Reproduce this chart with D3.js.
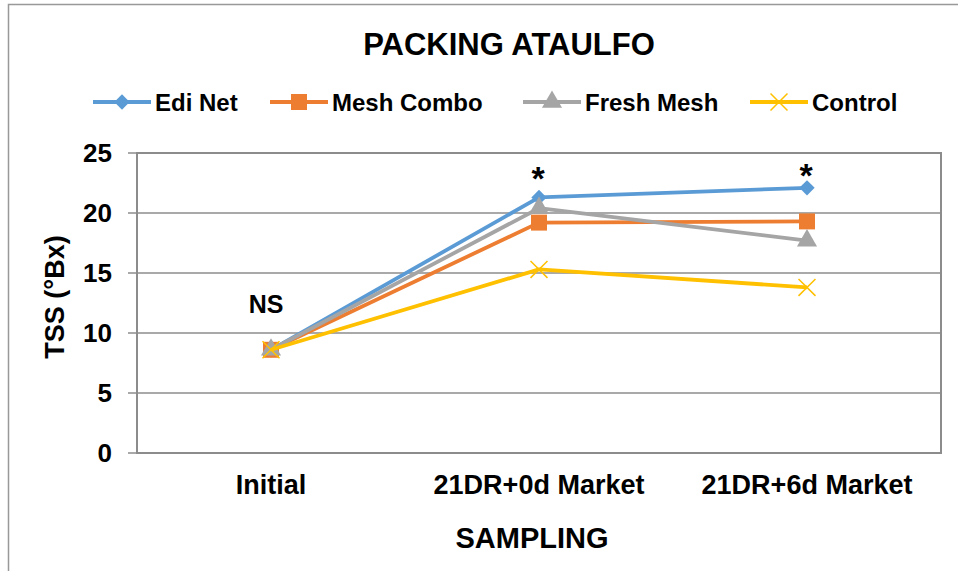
<!DOCTYPE html>
<html>
<head>
<meta charset="utf-8">
<script src="https://cdn.jsdelivr.net/npm/d3@7"></script>
<style>
  body { margin: 0; background: #fff; }
  text { font-family: "Liberation Sans", Arial, sans-serif; font-weight: bold; fill: #000; }
</style>
</head>
<body>
<div id="chart"></div>
<script>
"use strict"

// chart data
let categories = ["Initial", "21DR+0d Market", "21DR+6d Market"];
let seriesNames = ["Edi Net", "Mesh Combo", "Fresh Mesh", "Control"];
let ediNet = [8.6, 21.3, 22.1];
let meshCombo = [8.6, 19.2, 19.3];
let freshMesh = [8.6, 20.4, 17.7];
let control = [8.6, 15.3, 13.8];
let yTicks = [0, 5, 10, 15, 20, 25];
let notes = ["NS", "*", "*"];

let colors = ["#5B9BD5", "#ED7D31", "#A5A5A5", "#FFC000"];
let symbols = [d3.symbolDiamond2, d3.symbolSquare, d3.symbolTriangle, d3.symbolX];
let series = [ediNet, meshCombo, freshMesh, control];

let width = 958,
    height = 571;

let svg = d3.select("#chart")
    .append("svg")
    .attr("width", width)
    .attr("height", height);

// outer frame
svg.append("rect")
    .attr("x", 8.5).attr("y", 4.5)
    .attr("width", 1000).attr("height", 1000)
    .attr("fill", "none")
    .attr("stroke", "#999")
    .attr("stroke-width", 1.5);

let plotLeft = 137, plotRight = 941, plotTop = 153, plotBottom = 453;

let x = d3.scaleBand().domain(categories).range([plotLeft, plotRight]);
let y = d3.scaleLinear().domain([0, 25]).range([plotBottom, plotTop]);

function cx(i) {
    return x(categories[i]) + x.bandwidth() / 2;
}

// grid lines
svg.append("g")
    .selectAll("line")
    .data(yTicks)
    .enter()
    .append("line")
    .attr("x1", plotLeft - 9).attr("x2", plotRight)
    .attr("y1", function (d) { return y(d); })
    .attr("y2", function (d) { return y(d); })
    .attr("stroke", "#8c8c8c")
    .attr("stroke-width", 1.3);

// plot border
svg.append("rect")
    .attr("x", plotLeft).attr("y", plotTop)
    .attr("width", plotRight - plotLeft).attr("height", plotBottom - plotTop)
    .attr("fill", "none")
    .attr("stroke", "#8c8c8c")
    .attr("stroke-width", 2);

// y axis labels
let yAxis = d3.axisLeft(y).tickValues(yTicks).tickSize(0).tickPadding(25);
let yg = svg.append("g").attr("transform", "translate(" + plotLeft + ",0)").call(yAxis);
yg.select(".domain").remove();
yg.selectAll("text")
    .style("font-size", "26px")
    .style("font-family", "Liberation Sans, Arial, sans-serif")
    .style("font-weight", "bold")
    .attr("fill", "#000");

// x axis labels
let xAxis = d3.axisBottom(x).tickSize(0).tickPadding(22);
let xg = svg.append("g").attr("transform", "translate(0," + plotBottom + ")").call(xAxis);
xg.select(".domain").remove();
xg.selectAll("text")
    .style("font-size", "27px")
    .style("font-family", "Liberation Sans, Arial, sans-serif")
    .style("font-weight", "bold")
    .attr("fill", "#000");

// lines + markers, one series at a time
let line = d3.line()
    .x(function (d, i) { return cx(i); })
    .y(function (d) { return y(d); });

let markerSizes = [150, 256, 175, 190];

function drawMarker(g, k, px, py) {
    let m = g.append("path")
        .attr("d", d3.symbol().type(symbols[k]).size(markerSizes[k]))
        .attr("transform", "translate(" + px + "," + py + ")");
    if (k == 3) {
        m.attr("fill", "none").attr("stroke", colors[k]).attr("stroke-width", 1.5);
    } else {
        m.attr("fill", colors[k]);
    }
}

series.forEach(function (s, k) {
    let g = svg.append("g");
    g.append("path")
        .datum(s)
        .attr("d", line)
        .attr("fill", "none")
        .attr("stroke", colors[k])
        .attr("stroke-width", 3.8)
        .attr("stroke-linejoin", "round");
    s.forEach(function (v, i) {
        drawMarker(g, k, cx(i), y(v));
    });
});

// significance notes
let noteY = [313, 190, 187];
svg.selectAll(".note")
    .data(notes)
    .enter()
    .append("text")
    .attr("class", "note")
    .attr("x", function (d, i) { return cx(i) - (i == 0 ? 5 : 1); })
    .attr("y", function (d, i) { return noteY[i]; })
    .attr("text-anchor", "middle")
    .style("font-size", function (d) { return d == "*" ? "34px" : "25px"; })
    .text(function (d) { return d; });

// title
svg.append("text")
    .attr("x", 509).attr("y", 55)
    .attr("text-anchor", "middle")
    .style("font-size", "31px")
    .text("PACKING ATAULFO");

// axis titles
svg.append("text")
    .attr("x", 532).attr("y", 548)
    .attr("text-anchor", "middle")
    .style("font-size", "29px")
    .text("SAMPLING");

svg.append("text")
    .attr("transform", "translate(64,297) rotate(-90)")
    .attr("text-anchor", "middle")
    .style("font-size", "27px")
    .text("TSS (°Bx)");

// legend
let legendX = [93, 270, 523, 750];
let legend = svg.append("g");
seriesNames.forEach(function (name, k) {
    let lx = legendX[k], ly = 102;
    legend.append("line")
        .attr("x1", lx).attr("x2", lx + 58)
        .attr("y1", ly).attr("y2", ly)
        .attr("stroke", colors[k])
        .attr("stroke-width", 3.8);
    drawMarker(legend, k, lx + 29, ly);
    legend.append("text")
        .attr("x", lx + 62).attr("y", ly)
        .attr("dy", "0.36em")
        .style("font-size", "24px")
        .text(name);
});
</script>
</body>
</html>
